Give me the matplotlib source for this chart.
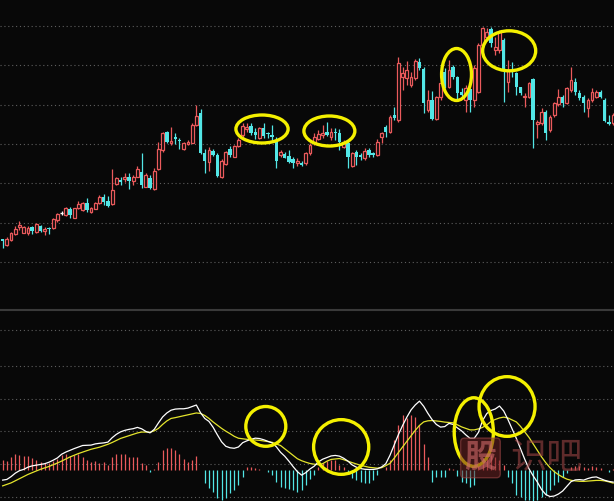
import matplotlib
matplotlib.use('Agg')
import matplotlib.pyplot as plt
from matplotlib.patches import Ellipse
from matplotlib.lines import Line2D
import numpy as np

# daily candles
opens = [6.07, 5.47, 6.00, 6.60, 7.27, 6.73, 6.67, 7.27, 6.80, 7.40,
         6.93, 7.20, 7.17, 8.00, 8.66, 8.47, 9.13, 8.23, 9.17, 9.00,
         9.73, 8.77, 9.13, 9.67, 10.27, 9.93, 9.60, 11.57, 12.00, 12.07,
         12.27, 11.93, 12.33, 12.80, 11.33, 12.23, 11.07, 13.07, 15.00, 16.77,
         15.67, 16.27, 16.00, 15.13, 15.57, 15.73, 17.50, 18.67, 14.67, 13.83,
         14.90, 14.50, 12.27, 13.60, 15.13, 14.33, 15.40, 16.50, 17.07, 17.40,
         16.83, 16.17, 17.17, 16.73, 16.50, 16.00, 14.50, 14.57, 14.40, 14.07,
         13.73, 13.67, 13.67, 14.67, 15.73, 16.07, 16.50, 16.83, 16.33, 16.83,
         16.67, 15.33, 15.67, 13.43, 14.83, 14.50, 14.17, 15.00, 14.67, 14.50,
         16.27, 17.33, 16.83, 18.50, 18.00, 22.27, 22.17, 21.50, 22.17, 23.83,
         23.10, 19.00, 20.00, 18.07, 20.27, 22.80, 21.33, 23.33, 22.27, 20.83,
         20.00, 21.07, 20.00, 20.83, 25.50, 26.33, 27.07, 25.00, 25.00, 26.00,
         21.83, 23.00, 22.67, 21.27, 20.27, 20.33, 22.10, 17.60, 17.73, 18.83,
         17.00, 18.50, 19.60, 20.33, 19.67, 21.00, 21.83, 20.67, 20.27, 19.17,
         20.00, 20.33, 20.83, 20.00, 17.83, 17.67]
closes = [5.93, 6.13, 6.67, 7.13, 7.50, 7.27, 7.23, 6.93, 7.60, 6.87,
          7.07, 7.07, 8.07, 8.60, 8.66, 9.17, 8.47, 9.17, 9.60, 9.67,
          9.00, 9.17, 9.67, 10.33, 9.83, 9.43, 11.00, 12.17, 11.80, 12.27,
          11.87, 12.33, 13.07, 11.50, 12.53, 11.17, 12.93, 15.07, 16.73, 15.83,
          15.93, 16.07, 15.90, 15.67, 15.83, 17.50, 18.40, 14.67, 13.93, 15.00,
          14.50, 12.40, 13.93, 14.83, 14.50, 15.40, 16.00, 17.40, 17.33, 16.73,
          16.50, 17.17, 16.40, 16.60, 16.27, 13.93, 14.83, 14.23, 13.83, 13.73,
          13.93, 13.50, 14.67, 15.50, 16.33, 16.60, 16.73, 16.50, 16.80, 16.70,
          15.83, 15.83, 14.33, 14.67, 14.33, 14.27, 14.93, 14.50, 14.50, 15.83,
          16.67, 16.83, 18.33, 18.17, 23.67, 22.73, 23.00, 22.27, 23.93, 23.17,
          19.73, 20.00, 18.07, 20.27, 21.67, 21.40, 23.00, 22.27, 20.67, 20.50,
          21.17, 20.00, 23.17, 25.50, 27.17, 26.83, 25.67, 25.33, 26.83, 23.00,
          23.00, 22.83, 21.33, 20.67, 20.43, 21.73, 18.00, 17.83, 18.83, 16.67,
          18.33, 19.67, 20.33, 19.67, 21.17, 22.00, 20.83, 20.17, 19.67, 20.00,
          20.83, 20.77, 20.33, 17.93, 17.60, 18.50]
highs = [6.13, 6.33, 6.80, 7.40, 7.90, 7.40, 7.40, 7.40, 7.73, 7.50,
         7.27, 7.27, 8.17, 8.73, 8.87, 9.33, 9.33, 9.20, 9.93, 9.83,
         10.17, 9.33, 9.80, 10.47, 10.57, 10.40, 13.07, 12.33, 12.27, 12.73,
         12.67, 12.50, 13.40, 14.67, 12.67, 12.50, 13.17, 15.83, 16.83, 16.93,
         17.27, 16.67, 16.17, 15.83, 16.00, 17.73, 19.50, 19.07, 15.07, 15.27,
         15.07, 14.67, 14.07, 14.93, 15.40, 15.50, 16.17, 17.67, 17.67, 17.67,
         17.17, 17.27, 17.73, 16.83, 17.50, 16.33, 15.00, 14.80, 15.00, 14.33,
         14.17, 13.93, 14.83, 15.67, 16.73, 17.00, 17.50, 17.83, 17.17, 17.17,
         17.07, 16.00, 16.00, 14.80, 15.00, 14.67, 15.17, 15.17, 14.83, 16.07,
         16.83, 17.50, 18.50, 19.33, 24.33, 23.33, 23.93, 22.83, 24.07, 24.17,
         23.33, 21.00, 20.93, 20.40, 22.00, 23.17, 24.00, 23.50, 22.40, 21.20,
         21.50, 21.17, 23.50, 25.67, 27.27, 27.17, 27.27, 26.33, 27.00, 26.17,
         24.00, 23.83, 22.83, 21.33, 20.67, 21.83, 22.17, 18.00, 19.20, 19.00,
         18.50, 19.83, 21.07, 20.50, 21.30, 23.33, 22.17, 21.00, 20.50, 20.17,
         21.17, 21.00, 21.00, 20.17, 18.50, 18.70]
lows = [5.17, 5.40, 5.93, 6.53, 7.00, 6.67, 6.53, 6.60, 6.73, 6.80,
        6.50, 6.60, 7.10, 7.80, 8.47, 8.40, 8.17, 8.20, 9.07, 8.93,
        8.83, 8.73, 9.07, 9.60, 9.50, 9.33, 9.50, 11.47, 11.50, 11.83,
        11.13, 11.50, 12.27, 11.17, 11.27, 11.07, 11.00, 13.00, 14.83, 15.73,
        15.50, 15.60, 15.07, 15.00, 15.47, 15.67, 17.40, 14.60, 12.67, 12.93,
        14.40, 12.27, 12.17, 13.50, 14.33, 14.30, 15.33, 16.33, 16.83, 16.50,
        16.07, 16.07, 16.17, 16.17, 16.00, 13.17, 14.33, 14.17, 13.73, 13.17,
        13.40, 13.40, 13.50, 14.50, 15.50, 16.00, 16.17, 16.40, 16.00, 16.00,
        15.00, 15.20, 13.17, 13.33, 13.50, 14.00, 14.00, 14.33, 14.27, 14.40,
        15.67, 16.33, 16.73, 18.00, 17.83, 21.00, 21.50, 21.33, 22.00, 23.00,
        18.67, 18.83, 18.00, 18.00, 20.00, 21.20, 21.17, 22.10, 20.00, 20.33,
        18.83, 18.83, 19.33, 20.67, 25.33, 26.00, 25.33, 24.50, 24.67, 19.83,
        20.83, 22.33, 20.50, 20.50, 19.33, 20.17, 15.17, 16.17, 17.50, 16.00,
        16.83, 18.33, 19.40, 19.33, 19.60, 20.83, 20.50, 20.00, 18.83, 18.33,
        19.83, 20.20, 20.17, 17.83, 17.50, 17.50]

# MACD panel
dif = [-0.100, -0.093, -0.065, -0.030, -0.005, 0.008, 0.030, 0.043, 0.050, 0.056,
       0.065, 0.080, 0.100, 0.123, 0.160, 0.182, 0.200, 0.217, 0.233, 0.248,
       0.250, 0.252, 0.264, 0.270, 0.274, 0.282, 0.326, 0.360, 0.385, 0.400,
       0.410, 0.417, 0.430, 0.416, 0.390, 0.375, 0.410, 0.475, 0.535, 0.575,
       0.603, 0.614, 0.617, 0.617, 0.624, 0.640, 0.655, 0.577, 0.520, 0.490,
       0.430, 0.355, 0.285, 0.240, 0.225, 0.220, 0.233, 0.276, 0.295, 0.310,
       0.322, 0.318, 0.306, 0.290, 0.274, 0.235, 0.180, 0.140, 0.090, 0.035,
       -0.015, -0.050, -0.025, 0.012, 0.040, 0.083, 0.110, 0.127, 0.143, 0.148,
       0.141, 0.120, 0.091, 0.053, 0.030, 0.016, 0.009, 0.007, 0.007, 0.013,
       0.032, 0.065, 0.150, 0.254, 0.358, 0.450, 0.533, 0.606, 0.656, 0.694,
       0.642, 0.571, 0.508, 0.460, 0.433, 0.438, 0.470, 0.460, 0.425, 0.395,
       0.355, 0.320, 0.320, 0.380, 0.500, 0.570, 0.600, 0.615, 0.645, 0.595,
       0.510, 0.415, 0.320, 0.215, 0.110, 0.015, -0.057, -0.120, -0.195, -0.245,
       -0.265, -0.260, -0.240, -0.210, -0.163, -0.115, -0.098, -0.095, -0.100, -0.084,
       -0.072, -0.068, -0.085, -0.102, -0.113, -0.120]
dea = [-0.158, -0.143, -0.128, -0.107, -0.085, -0.064, -0.043, -0.025, -0.008, 0.009,
       0.023, 0.037, 0.054, 0.072, 0.091, 0.112, 0.133, 0.150, 0.167, 0.182,
       0.196, 0.210, 0.221, 0.231, 0.245, 0.260, 0.278, 0.299, 0.319, 0.333,
       0.346, 0.360, 0.374, 0.383, 0.383, 0.381, 0.395, 0.420, 0.460, 0.495,
       0.520, 0.528, 0.538, 0.547, 0.556, 0.565, 0.575, 0.570, 0.550, 0.520,
       0.484, 0.452, 0.420, 0.392, 0.367, 0.340, 0.321, 0.315, 0.310, 0.307,
       0.304, 0.300, 0.294, 0.287, 0.280, 0.263, 0.248, 0.215, 0.182, 0.148,
       0.115, 0.095, 0.080, 0.067, 0.060, 0.055, 0.065, 0.090, 0.108, 0.113,
       0.117, 0.105, 0.090, 0.076, 0.062, 0.049, 0.039, 0.029, 0.024, 0.020,
       0.025, 0.045, 0.069, 0.121, 0.178, 0.234, 0.290, 0.345, 0.400, 0.450,
       0.485, 0.496, 0.499, 0.495, 0.490, 0.483, 0.480, 0.476, 0.455, 0.435,
       0.420, 0.405, 0.405, 0.415, 0.430, 0.455, 0.490, 0.510, 0.525, 0.533,
       0.525, 0.505, 0.485, 0.440, 0.385, 0.330, 0.265, 0.200, 0.133, 0.075,
       0.025, -0.015, -0.045, -0.070, -0.090, -0.102, -0.108, -0.112, -0.113, -0.110,
       -0.106, -0.103, -0.103, -0.108, -0.118, -0.130]
hist = [0.107, 0.093, 0.133, 0.167, 0.150, 0.140, 0.140, 0.127, 0.107, 0.083,
        0.073, 0.067, 0.093, 0.117, 0.150, 0.167, 0.140, 0.150, 0.160, 0.133,
        0.107, 0.083, 0.093, 0.073, 0.083, 0.050, 0.133, 0.167, 0.167, 0.160,
        0.133, 0.133, 0.133, 0.067, 0.050, -0.017, 0.010, 0.080, 0.207, 0.227,
        0.227, 0.200, 0.160, 0.117, 0.083, 0.100, 0.140, 0.000, -0.133, -0.183,
        -0.217, -0.283, -0.300, -0.283, -0.233, -0.200, -0.150, -0.073, 0.027, 0.033,
        0.017, 0.010, 0.000, -0.017, -0.050, -0.117, -0.167, -0.183, -0.193, -0.200,
        -0.217, -0.200, -0.150, -0.093, -0.050, 0.027, 0.073, 0.093, 0.107, 0.100,
        0.050, 0.027, -0.030, -0.083, -0.100, -0.117, -0.133, -0.127, -0.100, -0.050,
        0.000, 0.030, 0.100, 0.300, 0.450, 0.550, 0.520, 0.550, 0.530, 0.450,
        0.260, 0.130, -0.117, -0.067, -0.073, -0.067, 0.017, 0.010, -0.060, -0.117,
        -0.133, -0.173, -0.150, 0.080, 0.120, 0.150, 0.150, 0.130, 0.100, 0.050,
        -0.067, -0.133, -0.250, -0.267, -0.300, -0.300, -0.317, -0.300, -0.267, -0.250,
        -0.200, -0.150, -0.117, -0.067, -0.033, 0.027, 0.043, 0.043, 0.027, 0.020,
        0.040, 0.030, 0.020, 0.000, -0.020, 0.010]

# grid levels
price_grid = [3.8, 7.73, 11.67, 15.6, 19.53, 23.47, 27.4]
macd_grid = [-0.273, 0.06, 0.39, 0.713, 1.05, 1.41]

# highlighted spots: (centre x, centre y, width, height)
price_marks = [(61.6, 17.1, 12.4, 2.8), (77.6, 16.9, 12.1, 3.0),
               (107.8, 22.55, 7.1, 5.2), (120.3, 24.92, 12.6, 4.0)]
macd_marks = [(62.5, 0.44, 9.5, 0.40), (80.4, 0.233, 13.1, 0.55),
              (111.9, 0.383, 9.3, 0.69), (119.8, 0.64, 13.3, 0.60)]

bg = '#080808'
up_col = '#ea5a5c'
down_col = '#52e6e6'
ring_col = '#f4f000'

x = np.arange(len(opens))
o = np.array(opens)
c = np.array(closes)

fig = plt.figure(figsize=(6.14, 5.01), dpi=100, facecolor=bg)
ax = fig.add_axes([0, 192 / 501, 1, 309 / 501])
ax2 = fig.add_axes([0, 0, 1, 190 / 501])
for a in (ax, ax2):
    a.set_facecolor(bg)
    a.set_xticks([])
    a.set_yticks([])
    for s in a.spines.values():
        s.set_visible(False)
    a.set_xlim(-0.63, 145.2)

ax.set_ylim(-0.9, 30)
ax2.set_ylim(-0.31, 1.60)

for g in price_grid:
    ax.axhline(g, color='#5e5e5e', lw=0.8, ls=(0, (1, 2.5)), zorder=0)
for g in macd_grid:
    ax2.axhline(g, color='#5e5e5e', lw=0.8, ls=(0, (1, 2.5)), zorder=0)

# candles
cols = [up_col if cc > oo else (down_col if cc < oo else 'white')
        for oo, cc in zip(opens, closes)]
ax.vlines(x, lows, highs, colors=cols, lw=0.9, zorder=2)
up = c > o
down = c < o
flat = c == o
ax.bar(x[up], (c - o)[up], bottom=o[up], width=0.66, facecolor=bg,
       edgecolor=up_col, linewidth=0.9, zorder=3)
ax.bar(x[down], (o - c)[down], bottom=c[down], width=0.8, color=down_col,
       linewidth=0, zorder=3)
ax.hlines(o[flat], x[flat] - 0.4, x[flat] + 0.4, colors='white', lw=1, zorder=3)

# MACD
h = np.array(hist)
hcols = [up_col if v > 0 else down_col for v in hist]
ax2.vlines(x, 0, h, colors=hcols, lw=0.9, zorder=2)
ax2.plot(x, dea, color='#e4e42c', lw=0.9, zorder=3)
ax2.plot(x, dif, color='white', lw=0.9, zorder=4)

# separator between panels
fig.add_artist(Line2D([0, 1], [191.5 / 501] * 2, transform=fig.transFigure,
                      color='#3a3a3a', lw=1.5))

# watermark
fig.text(0.7825, 0.086, '股', family=['Noto Sans CJK SC', 'DejaVu Sans'],
         fontsize=23, color='#d06a6a', alpha=0.6, ha='center', va='center',
         fontweight='bold', zorder=5,
         bbox=dict(boxstyle='round,pad=0.12', facecolor='#6a2020',
                   edgecolor='#a04848', alpha=0.55))
fig.text(0.89, 0.086, '识吧', family=['Noto Sans CJK SC', 'DejaVu Sans'],
         fontsize=26, color='#a84848', alpha=0.55, ha='center', va='center',
         zorder=5)

for (cx, cy, w, hh) in price_marks:
    ax.add_patch(Ellipse((cx, cy), w, hh, fill=False, edgecolor=ring_col,
                         lw=2.4, zorder=6))
for (cx, cy, w, hh) in macd_marks:
    ax2.add_patch(Ellipse((cx, cy), w, hh, fill=False, edgecolor=ring_col,
                          lw=2.4, zorder=6))

fig.savefig('out.png', dpi=100, facecolor=bg)
